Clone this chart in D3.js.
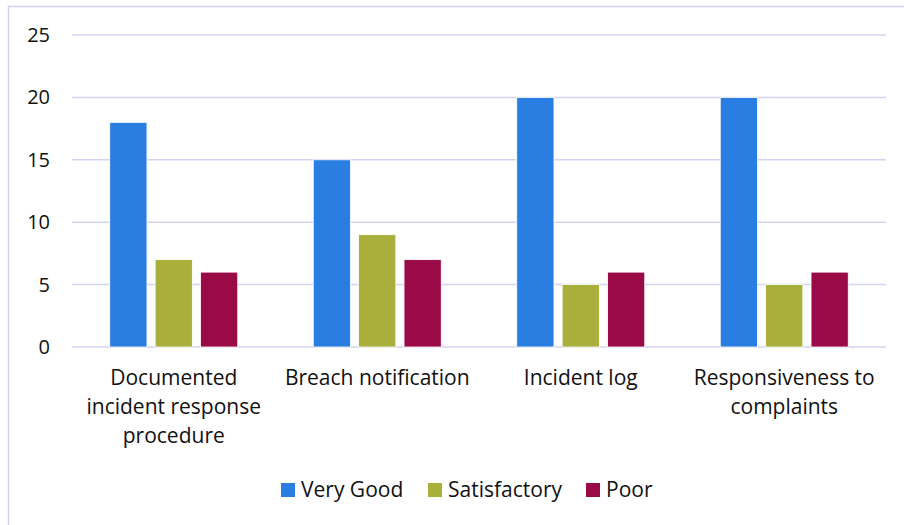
<!DOCTYPE html>
<html>
<head>
<meta charset="utf-8">
<script src="https://cdn.jsdelivr.net/npm/d3@7"></script>
<style>
  body { margin: 0; background: #fff; }
  svg { display: block; font-family: "Open Sans", Lato, sans-serif; }
</style>
</head>
<body>
<div id="chart"></div>
<script>
// chart data
var categories = [
  ["Documented", "incident response", "procedure"],
  ["Breach notification"],
  ["Incident log"],
  ["Responsiveness to", "complaints"]
];
var seriesNames = ["Very Good", "Satisfactory", "Poor"];
var seriesColors = ["#2a7de1", "#a9af3b", "#990a47"];
var veryGood = [18, 15, 20, 20];
var satisfactory = [7, 9, 5, 5];
var poor = [6, 7, 6, 6];
var yTicks = [0, 5, 10, 15, 20, 25];

var width = 904, height = 525;
var margin = { top: 35, right: 18, bottom: 178, left: 72 };
var innerW = width - margin.left - margin.right,
  innerH = height - margin.top - margin.bottom;

var svg = d3.select("#chart").append("svg")
  .attr("width", width)
  .attr("height", height);

// outer border
svg.append("rect")
  .attr("x", 8.5).attr("y", 6.5)
  .attr("width", width + 10).attr("height", height + 10)
  .attr("fill", "none")
  .attr("stroke", "#d0d0f0")
  .attr("stroke-width", 1.5);

var g = svg.append("g")
  .attr("transform", "translate(" + margin.left + "," + margin.top + ")");

var x0 = d3.scaleBand()
  .domain(d3.range(categories.length))
  .range([0, innerW]);

var groupW = 128;
var x1 = d3.scaleBand()
  .domain(d3.range(seriesNames.length))
  .range([0, groupW])
  .paddingInner(0.18);

var y = d3.scaleLinear().domain([0, 25]).range([innerH, 0]);

// gridlines
g.selectAll(".grid")
  .data(yTicks)
  .join("line")
  .attr("class", "grid")
  .attr("x1", 0).attr("x2", innerW)
  .attr("y1", d => y(d)).attr("y2", d => y(d))
  .attr("stroke", "#d3d3f3")
  .attr("stroke-width", 1.5);

// y tick labels
g.selectAll(".ytick")
  .data(yTicks)
  .join("text")
  .attr("class", "ytick")
  .attr("x", -22)
  .attr("y", d => y(d))
  .attr("dy", "0.35em")
  .attr("text-anchor", "end")
  .attr("font-size", 20)
  .attr("fill", "#111")
  .text(d => d);

var allSeries = [veryGood, satisfactory, poor];

var groups = g.selectAll(".group")
  .data(categories)
  .join("g")
  .attr("class", "group")
  .attr("transform", (d, i) =>
    "translate(" + (x0(i) + x0.bandwidth() / 2 - groupW / 2) + ",0)");

groups.selectAll("rect")
  .data((d, i) => allSeries.map((s, k) => ({ k: k, v: s[i] })))
  .join("rect")
  .attr("x", d => x1(d.k))
  .attr("y", d => y(d.v))
  .attr("width", x1.bandwidth())
  .attr("height", d => innerH - y(d.v))
  .attr("fill", d => seriesColors[d.k])
  .attr("stroke", "#fff")
  .attr("stroke-width", 0.8);

// category labels
g.selectAll(".cat")
  .data(categories)
  .join("text")
  .attr("class", "cat")
  .attr("text-anchor", "middle")
  .attr("font-size", 21)
  .attr("fill", "#111")
  .attr("transform", (d, i) =>
    "translate(" + (x0(i) + x0.bandwidth() / 2) + "," + (innerH + 38) + ")")
  .selectAll("tspan")
  .data(d => d)
  .join("tspan")
  .attr("x", 0)
  .attr("y", (d, j) => j * 29)
  .text(d => d);

// legend
var legendX = [281, 428, 586];
var legend = svg.selectAll(".legend")
  .data(seriesNames)
  .join("g")
  .attr("class", "legend")
  .attr("transform", (d, i) => "translate(" + legendX[i] + ",483)");

legend.append("rect")
  .attr("width", 14).attr("height", 14)
  .attr("fill", (d, i) => seriesColors[i]);

legend.append("text")
  .attr("x", 20)
  .attr("y", 14)
  .attr("font-size", 21)
  .attr("fill", "#111")
  .text(d => d);
</script>
</body>
</html>
